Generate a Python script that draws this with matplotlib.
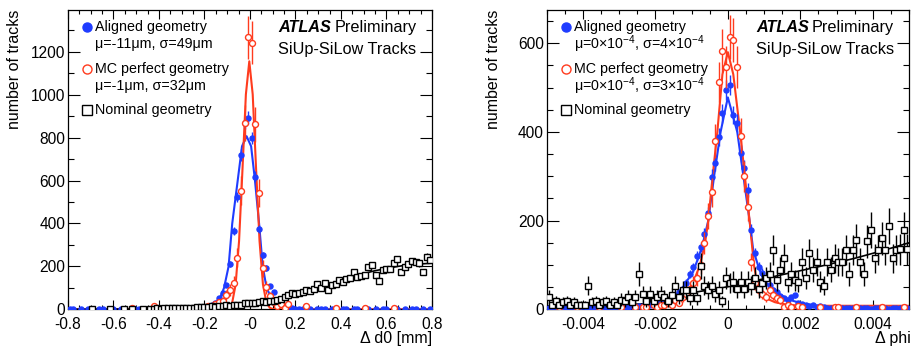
import numpy as np
import matplotlib
matplotlib.use('Agg')
import matplotlib.pyplot as plt
from matplotlib.ticker import MultipleLocator, FixedLocator, FixedFormatter

plt.rcParams['font.family'] = ['Liberation Sans', 'DejaVu Sans']
plt.rcParams['mathtext.fontset'] = 'custom'
plt.rcParams['mathtext.rm'] = 'Liberation Sans'
plt.rcParams['mathtext.it'] = 'Liberation Sans:italic'

BLUE = '#1f3cff'
RED = '#ff3b1e'

# ---- Delta d0 panel: 100 bins from -0.8 to 0.8 mm ----
d0_centres = np.linspace(-0.792, 0.792, 100)

aligned_d0 = [1, 2, 0, 1, 0, 2, 1, 0, 1, 2, 0, 1, 1, 0, 2, 1, 0, 1, 2, 1,
              0, 2, 1, 1, 2, 1, 2, 2, 1, 3, 2, 2, 3, 3, 4,
              5, 6, 8, 12, 18, 30, 51, 78, 113, 210, 366, 525, 719, 869, 893,
              800, 618, 373, 253, 191, 109, 82, 45, 25, 15, 8, 5,
              3, 2, 1, 2, 1, 0, 2, 1, 1, 0, 2, 1, 0, 1, 2, 0, 1, 1, 0, 2,
              1, 0, 1, 0, 2, 1, 0, 1, 1, 0, 2, 0, 1, 1, 0, 1, 0, 1]
mc_d0 = [0, 0, 0, 0, 0, 0, 0, 0, 0, 0, 0, 0, 0, 0, 0, 0, 0, 8, 0, 0,
         0, 0, 0, 16, 0, 0, 0, 0, 0, 0, 0, 0, 0, 0, 0, 0, 8,
         8, 16, 16, 24, 32, 40, 67, 90, 124, 241, 553, 869, 1267, 1243, 862,
         543, 191, 102, 60, 32, 16, 24, 8, 24, 0,
         0, 0, 0, 16, 0, 0, 0, 0, 0, 0, 0, 8, 0, 0, 0, 0, 0, 0, 0, 8,
         0, 0, 0, 0, 0, 0, 0, 8, 0, 0, 0, 0, 0, 0, 0, 0, 0, 0]
nominal_d0 = [0, 0, 0, 0, 0, 0, 2, 0, 0, 0, 0, 2, 0, 0, 0, 3,
              0, 1, 0, 0, 2, 0,
              3, 2, 4, 3, 5, 4, 5, 4, 6, 5, 6, 7, 6,
              9, 11, 10, 13, 15, 12, 16, 14, 18, 16, 20, 22, 20, 28, 30, 31,
              30, 35, 40, 36, 38, 40, 43,
              50, 56, 66, 74, 72, 77, 82, 90, 87, 95, 116, 100, 121, 90, 113,
              118, 136, 129, 140, 145, 175, 149, 155, 160, 198, 206, 160, 133,
              183, 186, 190, 214, 233, 175, 195, 211, 226, 220, 214, 175, 245, 230]
mc_weight_d0 = 8

fit_aligned_d0_x = [-0.8, -0.35, -0.3, -0.25, -0.2, -0.17, -0.15, -0.13, -0.114, -0.094,
                    -0.078, -0.054, -0.035, -0.015, 0.005, 0.022, 0.040, 0.056, 0.073,
                    0.095, 0.12, 0.15, 0.2, 0.25, 0.8]
fit_aligned_d0_y = [0, 0, 1, 3, 10, 20, 33, 58, 100, 200, 400, 600, 760, 807, 760,
                    600, 400, 200, 100, 50, 20, 6, 1, 0, 0]
fit_mc_d0_x = [-0.8, -0.153, -0.138, -0.123, -0.108, -0.093, -0.078, -0.063, -0.048,
               -0.033, -0.018, -0.003, 0.012, 0.027, 0.042, 0.057, 0.072, 0.087,
               0.102, 0.117, 0.8]
fit_mc_d0_y = [0, 0, 0, 0, 1, 7, 32, 116, 318, 651, 1002, 1156, 1002, 651, 318, 116,
               32, 7, 1, 0, 0]
fit_nominal_d0_x = [-0.8, -0.6, -0.4, -0.3, -0.2, -0.1, -0.044, 0.0, 0.1, 0.175, 0.25,
                    0.325, 0.4, 0.475, 0.55, 0.625, 0.7, 0.8]
fit_nominal_d0_y = [0, 1, 3, 5, 7, 9, 14, 20, 36, 56, 80, 107, 136, 160, 180, 196, 208, 215]

# ---- Delta phi panel: 100 bins from -0.005 to 0.005 ----
phi_centres = np.linspace(-0.00495, 0.00495, 100)

aligned_phi = [2, 3, 1, 2, 4, 2, 3, 2, 1, 3, 2, 4, 3, 2, 3, 4, 3, 5, 4, 5,
               4, 6, 5, 7, 6, 8, 7, 10, 9, 12, 14, 13, 18, 20, 24, 30, 38, 45, 60, 80,
               95, 120, 140, 170, 217, 299, 329, 389, 442, 495,
               506, 438, 420, 352, 318, 269, 179, 126, 96, 83, 70, 55, 43, 38, 30, 25,
               22, 28, 32, 15, 12, 10, 8, 9, 6, 7,
               5, 4, 3, 4, 3, 2, 3, 4, 2, 3, 2, 3, 2, 1, 3, 2, 2, 3, 1, 2, 3, 2, 1, 2]
mc_phi = [0, 0, 0, 5, 0, 0, 0, 0, 5, 0, 0, 0, 0, 0, 5, 0, 0, 0, 0, 0, 5, 0, 0, 0, 5, 0,
          5, 5, 0, 10, 5, 10, 10, 15, 10, 20, 15, 28, 35, 45, 59, 70, 100, 149, 210, 264,
          380, 512, 583, 547, 615, 607, 547, 391, 300, 230, 107, 60, 43, 35, 28, 43, 32,
          25, 22,
          6, 10, 5, 0, 7, 5, 0, 0, 0, 0, 6, 0, 0, 0, 6, 6, 0, 0, 0, 0,
          6, 0, 0, 0, 0, 0, 0, 6, 0, 0, 0, 0, 0, 6, 0]
nominal_phi = [27, 10, 18, 10, 16, 18, 9, 16, 10, 9, 9, 53, 16, 18, 10, 16, 18, 9, 16, 10,
               22, 18, 27, 16, 27, 80, 34, 18, 34, 18, 27, 34, 27, 18, 32, 53, 27, 44,
               44, 25, 44, 25, 98, 53, 44, 53, 34, 44, 18, 70,
               59, 62, 45, 62, 45, 62, 53, 70, 45, 60, 70, 80, 134, 65, 89, 115, 62, 80,
               65, 62, 107, 70, 126, 89, 107, 62, 53, 107, 89, 115, 107, 107, 134, 80,
               134, 156, 107, 80, 153, 179, 115, 134, 160, 134, 188, 115, 134, 136, 179, 136]
mc_weight_phi = 4
nominal_weight_phi = 9

fit_aligned_phi_x = [-0.005, -0.004, -0.0029, -0.0025, -0.002, -0.0017, -0.00151, -0.00123,
                     -0.00096, -0.00082, -0.0007, -0.00054, -0.00038, -0.0002, 0.0, 0.00026,
                     0.00043, 0.0006, 0.0007, 0.00083, 0.00097, 0.00116, 0.00125, 0.00145,
                     0.00162, 0.0018, 0.00207, 0.0025, 0.003, 0.0034, 0.004, 0.005]
fit_aligned_phi_y = [2, 3, 5, 7, 11, 18, 25, 51, 85, 115, 145, 200, 300, 400, 478, 400,
                     300, 200, 134, 100, 70, 50, 43, 33, 25, 19, 13, 7, 5, 4, 3, 3]
fit_mc_phi_x = [-0.005, -0.003, -0.0022, -0.0018, -0.0015, -0.00123, -0.00096, -0.00077,
                -0.00063, -0.00054, -0.00042, -0.00029, -0.00015, 0.0, 0.00015, 0.00034,
                0.00047, 0.0006, 0.00072, 0.00083, 0.0009, 0.00105, 0.0013, 0.0016, 0.002,
                0.005]
fit_mc_phi_y = [7, 7, 8, 12, 18, 28, 59, 100, 149, 200, 300, 400, 530, 580, 530, 400, 300,
                200, 100, 50, 38, 25, 16, 11, 8, 8]
fit_nominal_phi_x = [-0.005, -0.004, -0.003, -0.0024, -0.002, -0.0015, -0.0011, -0.0005,
                     0.0, 0.001, 0.00166, 0.0025, 0.0035, 0.0043, 0.005]
fit_nominal_phi_y = [8, 8, 10, 12, 16, 26, 36, 44, 51, 69, 81, 96, 115, 133, 150]


def draw_points(ax, x, n, w, color, marker, ms, filled, z):
    x = np.asarray(x)
    n = np.asarray(n, dtype=float)
    m = n > 0
    ax.errorbar(x[m], n[m], yerr=np.sqrt(w * n[m]), fmt=marker, color=color, ms=ms,
                mfc=color if filled else 'white', mec=color, mew=1.0,
                elinewidth=1.0, capsize=0, zorder=z)


def style_axes(ax, xlim, ylim, xmaj, xmin, ymaj, ymin):
    ax.set_xlim(xlim)
    ax.set_ylim(ylim)
    ax.xaxis.set_major_locator(MultipleLocator(xmaj))
    ax.xaxis.set_minor_locator(MultipleLocator(xmin))
    ax.yaxis.set_major_locator(MultipleLocator(ymaj))
    ax.yaxis.set_minor_locator(MultipleLocator(ymin))
    ax.tick_params(which='both', direction='in', top=True, right=True,
                   labelsize=11.2, width=0.8)
    ax.tick_params(axis='x', which='major', length=6.5, pad=5.5)
    ax.tick_params(axis='x', which='minor', length=3.2)
    ax.tick_params(axis='y', which='major', length=8.6, pad=2)
    ax.tick_params(axis='y', which='minor', length=4.3)
    for s in ax.spines.values():
        s.set_linewidth(0.9)


def legend_and_labels(ax, mu_sigma_aligned, mu_sigma_mc, xlabel, xlabel_x):
    tr = ax.transAxes
    ax.plot([0.052], [0.942], 'o', transform=tr, ms=6.5, color=BLUE, clip_on=False)
    ax.text(0.074, 0.942, 'Aligned geometry', transform=tr, va='center', fontsize=10.3)
    ax.text(0.074, 0.886, mu_sigma_aligned, transform=tr, va='center', fontsize=10.3)
    ax.plot([0.052], [0.803], 'o', transform=tr, ms=6.5, color=RED, mfc='white',
            mew=1.0, clip_on=False)
    ax.text(0.074, 0.803, 'MC perfect geometry', transform=tr, va='center', fontsize=10.3)
    ax.text(0.074, 0.746, mu_sigma_mc, transform=tr, va='center', fontsize=10.3)
    ax.plot([0.052], [0.666], 's', transform=tr, ms=6.5, color='black', mfc='white',
            mew=1.0, clip_on=False)
    ax.text(0.074, 0.666, 'Nominal geometry', transform=tr, va='center', fontsize=10.3)

    ax.text(0.578, 0.940, 'ATLAS', transform=tr, va='center', fontsize=11.7,
            fontweight='bold', fontstyle='italic')
    ax.text(0.957, 0.940, 'Preliminary', transform=tr, va='center', ha='right',
            fontsize=11.7)
    ax.text(0.578, 0.869, 'SiUp-SiLow Tracks', transform=tr, va='center', fontsize=11.7)

    ax.text(-0.147, 1.0, 'number of tracks', transform=tr, rotation=90,
            ha='center', va='top', fontsize=11.5)
    ax.text(xlabel_x, -0.098, xlabel, transform=tr, ha='right', va='center', fontsize=11.5)


fig = plt.figure(figsize=(9.11, 3.47), dpi=100)

# left panel
ax1 = fig.add_axes([0.0746, 0.1086, 0.3996, 0.8625])
ax1.plot(fit_aligned_d0_x, fit_aligned_d0_y, color=BLUE, lw=1.5, zorder=3)
ax1.plot(fit_mc_d0_x, fit_mc_d0_y, color=RED, lw=1.5, zorder=4)
ax1.plot(fit_nominal_d0_x, fit_nominal_d0_y, color='black', lw=1.2, zorder=5)
draw_points(ax1, d0_centres, aligned_d0, 1, BLUE, 'o', 3.6, True, 6)
draw_points(ax1, d0_centres, mc_d0, mc_weight_d0, RED, 'o', 4.3, False, 7)
draw_points(ax1, d0_centres, nominal_d0, 1, 'black', 's', 5.0, False, 8)
style_axes(ax1, (-0.8, 0.8), (0, 1395), 0.2, 0.05, 200, 100)
ax1.xaxis.set_major_locator(FixedLocator([-0.8, -0.6, -0.4, -0.2, 0.0, 0.2, 0.4, 0.6, 0.8]))
ax1.xaxis.set_major_formatter(FixedFormatter(['-0.8', '-0.6', '-0.4', '-0.2', '-0',
                                              '0.2', '0.4', '0.6', '0.8']))
legend_and_labels(ax1, 'μ=-11μm, σ=49μm', 'μ=-1μm, σ=32μm', 'Δ d0 [mm]', 1.0)

# right panel
ax2 = fig.add_axes([0.6001, 0.1086, 0.3977, 0.8625])
ax2.plot(fit_aligned_phi_x, fit_aligned_phi_y, color=BLUE, lw=1.5, zorder=3)
ax2.plot(fit_mc_phi_x, fit_mc_phi_y, color=RED, lw=1.5, zorder=4)
ax2.plot(fit_nominal_phi_x, fit_nominal_phi_y, color='black', lw=1.2, zorder=5)
draw_points(ax2, phi_centres, aligned_phi, 1, BLUE, 'o', 3.6, True, 6)
draw_points(ax2, phi_centres, mc_phi, mc_weight_phi, RED, 'o', 4.3, False, 7)
draw_points(ax2, phi_centres, nominal_phi, nominal_weight_phi, 'black', 's', 5.0, False, 8)
style_axes(ax2, (-0.005, 0.005), (0, 675), 0.002, 0.0005, 200, 50)
ax2.xaxis.set_major_locator(FixedLocator([-0.004, -0.002, 0.0, 0.002, 0.004]))
ax2.xaxis.set_major_formatter(FixedFormatter(['-0.004', '-0.002', '0', '0.002', '0.004']))
legend_and_labels(ax2, 'μ=0×10$^{-4}$, σ=4×10$^{-4}$', 'μ=0×10$^{-4}$, σ=3×10$^{-4}$',
                  'Δ phi', 1.005)

fig.savefig('out.png', dpi=100)
